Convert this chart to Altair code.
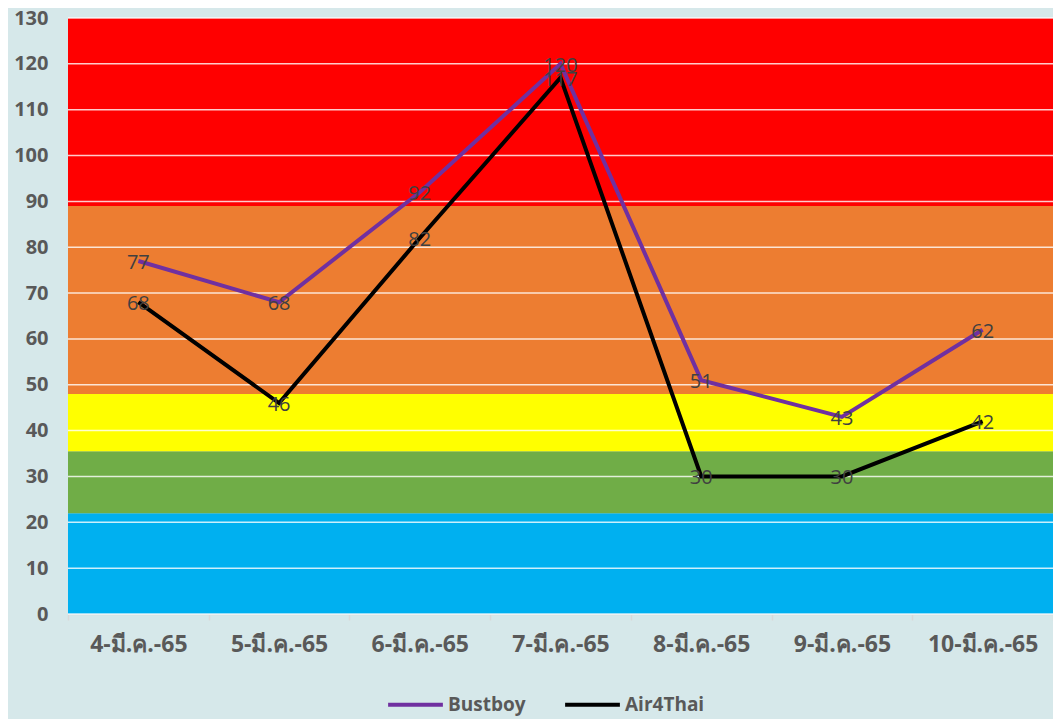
import altair as alt
import pandas as pd

dates = ["4-มี.ค.-65", "5-มี.ค.-65", "6-มี.ค.-65", "7-มี.ค.-65",
         "8-มี.ค.-65", "9-มี.ค.-65", "10-มี.ค.-65"]
bustboy = [77, 68, 92, 120, 51, 43, 62]
air4thai = [68, 46, 82, 117, 30, 30, 42]
series_names = ["Bustboy", "Air4Thai"]
series_colors = ["#7030A0", "#000000"]

band_lo = [0, 22, 35.5, 48, 89]
band_hi = [22, 35.5, 48, 89, 130]
band_colors = ["#00B0F0", "#70AD47", "#FFFF00", "#ED7D31", "#FF0000"]
grid_vals = list(range(0, 131, 10))

rows = []
for d, v in zip(dates, bustboy):
    rows.append({"date": d, "value": v, "series": "Bustboy"})
for d, v in zip(dates, air4thai):
    rows.append({"date": d, "value": v, "series": "Air4Thai"})
df = pd.DataFrame(rows)

bands = pd.DataFrame({"lo": band_lo, "hi": band_hi, "c": band_colors})
grid = pd.DataFrame({"y": grid_vals})

FONT = "Open Sans"
yscale = alt.Scale(domain=[0, 130], nice=False)
xenc = alt.X("date:N", sort=dates, scale=alt.Scale(paddingInner=0, paddingOuter=0),
             axis=alt.Axis(title=None, labelAngle=0, tickBand="extent"))

band_layer = alt.Chart(bands).mark_rect().encode(
    y=alt.Y("lo:Q", scale=yscale, axis=alt.Axis(title=None, values=grid_vals)),
    y2="hi:Q",
    color=alt.Color("c:N", scale=None),
)

grid_layer = alt.Chart(grid).mark_rule(color="#FFFFFF", opacity=0.8, strokeWidth=1.5).encode(
    y=alt.Y("y:Q", scale=yscale)
)

color = alt.Color("series:N", sort=series_names,
                  scale=alt.Scale(domain=series_names, range=series_colors),
                  legend=alt.Legend(title=None, orient="none", direction="horizontal",
                                    legendX=318, legendY=657, symbolType="stroke",
                                    symbolSize=3000, symbolStrokeWidth=4,
                                    labelFontSize=19, labelFontWeight="bold",
                                    labelColor="#595959", labelFont=FONT,
                                    columnPadding=31, labelOffset=3, padding=0))

line_layer = alt.Chart(df).mark_line(strokeWidth=4).encode(
    x=xenc,
    y=alt.Y("value:Q", scale=yscale),
    color=color,
)

text_layer = alt.Chart(df).mark_text(fontSize=20, color="#404040", font=FONT,
                                     baseline="middle", dy=2).encode(
    x=alt.X("date:N", sort=dates),
    y=alt.Y("value:Q", scale=yscale),
    text="value:Q",
)

chart = alt.layer(band_layer, grid_layer, line_layer, text_layer).properties(
    width=985, height=596,
    padding={"left": 60, "top": 10, "right": 0, "bottom": 105},
    autosize=alt.AutoSizeParams(type="none"),
    background="#D6E8EA",
).configure_view(stroke=None).configure_axisY(
    labelFontSize=20, labelFontWeight="bold", labelColor="#595959", labelFont=FONT,
    domain=False, ticks=False, grid=False, labelPadding=20
).configure_axisX(
    labelFontSize=23, labelFontWeight="bold", labelColor="#595959", labelFont=FONT,
    domainColor="#D9D9D9", domainWidth=1.5, tickColor="#D9D9D9", tickSize=6,
    tickWidth=1.5, labelPadding=13, grid=False
)

chart.save("out.html", embed_options={"renderer": "svg", "actions": False})
